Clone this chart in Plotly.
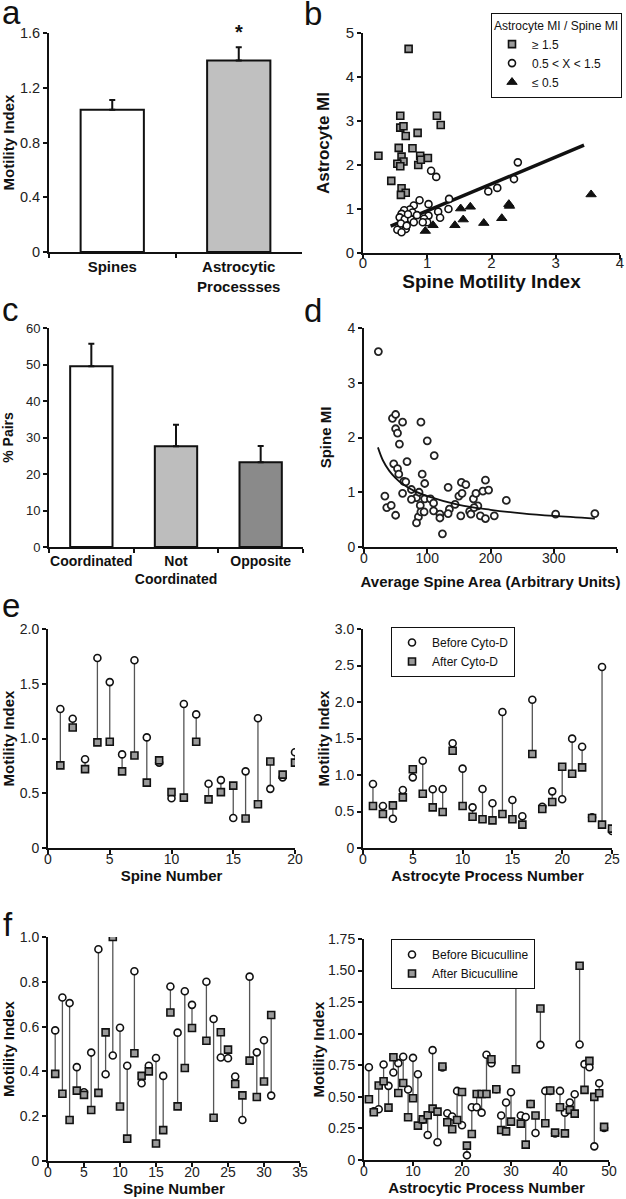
import plotly.graph_objects as go

FONT = "Arial, 'Liberation Sans', Helvetica, sans-serif"
W, H = 626, 1199
INK = "#111111"

# ---------------- Panel a ----------------
a_categories = ["Spines", "Astrocytic<br>Processses"]
a_values = [1.04, 1.40]
a_errors = [0.07, 0.095]
a_colors = ["#ffffff", "#c0c0c0"]
a_ytickvals = [0, 0.4, 0.8, 1.2, 1.6]
a_yticktext = ["0", "0.4", "0.8", "1.2", "1.6"]

# ---------------- Panel b ----------------
b_sq_x = [0.24, 0.44, 0.58, 0.58, 0.63, 0.665, 0.556, 0.60, 0.63, 0.535, 0.58, 0.60,
          0.665, 0.59, 0.71, 0.85, 0.77, 0.89, 0.86, 0.90, 1.01, 1.15, 1.21]
b_sq_y = [2.21, 1.64, 3.12, 2.85, 2.88, 2.66, 2.39, 2.19, 2.08, 2.03, 1.97, 1.47,
          1.37, 1.32, 4.64, 2.73, 2.38, 2.21, 2.00, 2.12, 2.16, 3.12, 2.91]
b_ci_x = [2.41, 2.35, 2.09, 1.95, 1.06, 1.14, 1.34, 1.33, 0.88, 1.02, 0.79, 0.73,
          0.64, 0.77, 0.60, 0.57, 0.65, 0.75, 1.02, 0.95, 1.17, 1.20, 1.00, 0.79,
          0.59, 0.665, 0.535, 0.60, 0.93, 0.68, 0.84, 0.70]
b_ci_y = [2.06, 1.68, 1.48, 1.40, 1.87, 1.73, 1.23, 1.00, 1.20, 1.11, 1.08, 0.99,
          0.97, 0.92, 0.89, 0.81, 0.77, 0.76, 0.85, 0.78, 0.94, 0.80, 0.70, 0.70,
          0.67, 0.545, 0.53, 0.47, 0.70, 0.62, 0.86, 0.88]
b_tr_x = [0.97, 1.09, 1.43, 1.52, 1.56, 1.67, 1.88, 2.16, 2.27, 2.28, 3.55]
b_tr_y = [0.50, 0.63, 0.63, 1.01, 0.76, 1.05, 0.68, 0.79, 1.11, 1.07, 1.33]
b_fit_x = [0.43, 3.44]
b_fit_y = [0.61, 2.45]
b_legend_names = ["\u2265 1.5", "0.5 &lt; X &lt; 1.5", "\u2264 0.5"]

# ---------------- Panel c ----------------
c_categories = ["Coordinated", "Not<br>Coordinated", "Opposite"]
c_values = [49.5, 27.6, 23.2]
c_errors = [6.2, 5.9, 4.5]
c_colors = ["#ffffff", "#bdbdbd", "#8a8a8a"]

# ---------------- Panel d ----------------
d_x = [22.7, 45, 50, 50, 53, 56, 61, 90, 100, 111, 68, 47, 53, 55, 63, 66, 92, 96, 33, 36,
       43, 50, 61, 75, 83, 87, 75, 89, 86, 83, 90, 95, 96, 105, 110, 110, 120, 120, 124, 133,
       135, 133, 144, 150, 155, 154, 161, 153, 167, 169, 173, 177, 180, 174, 184, 188, 192, 197,
       192, 206, 225, 303, 365]
d_y = [3.57, 2.35, 2.42, 2.16, 2.08, 1.88, 2.28, 2.28, 1.94, 1.67, 1.56, 1.52, 1.43, 1.33, 1.20,
       1.19, 1.33, 1.16, 0.93, 0.72, 0.76, 0.58, 0.98, 1.05, 0.90, 1.00, 0.87, 0.76, 0.55, 0.44,
       0.64, 0.64, 0.88, 0.88, 0.80, 0.66, 0.60, 0.53, 0.24, 1.09, 0.69, 0.61, 0.78, 0.93, 0.98,
       1.18, 1.14, 0.57, 0.65, 0.60, 0.88, 0.98, 0.75, 0.72, 0.57, 1.02, 1.22, 1.04, 0.52, 0.57,
       0.85, 0.60, 0.61]
d_fit_x = [22, 30, 40, 50, 60, 80, 100, 150, 200, 250, 300, 365]
d_fit_y = [1.82, 1.58, 1.39, 1.26, 1.16, 1.02, 0.93, 0.77, 0.68, 0.615, 0.567, 0.52]

# ---------------- Panel e (left: spines, right: astrocyte processes) ----------------
e1_n = list(range(1, 21))
e1_before = [1.27, 1.18, 0.81, 1.735, 1.515, 0.855, 1.715, 1.01, 0.78, 0.455, 1.315, 1.22,
             0.587, 0.62, 0.274, 0.70, 1.185, 0.54, 0.645, 0.875]
e1_after = [0.755, 1.10, 0.72, 0.965, 0.97, 0.70, 0.845, 0.597, 0.80, 0.51, 0.46, 0.97,
            0.444, 0.51, 0.57, 0.27, 0.40, 0.79, 0.67, 0.78]
e2_n = list(range(1, 26))
e2_before = [0.877, 0.575, 0.40, 0.795, 0.968, 1.196, 0.804, 0.808, 1.434, 1.087, 0.557, 0.808,
             0.612, 1.863, 0.658, 0.434, 2.03, 0.566, 0.776, 0.667, 1.498, 1.388, 0.42, 2.48, 0.233]
e2_after = [0.575, 0.466, 0.584, 0.694, 1.078, 0.744, 0.557, 0.493, 1.333, 0.575, 0.429, 0.393,
            0.379, 0.466, 0.393, 0.32, 1.288, 0.534, 0.63, 1.114, 1.018, 1.105, 0.41, 0.32, 0.265]

# ---------------- Panel f (left: spines, right: astrocytic processes) ----------------
f1_n = list(range(1, 21)) + list(range(22, 32))
f1_before = [0.583, 0.730, 0.705, 0.419, 0.307, 0.484, 0.945, 0.387, 0.471, 0.595, 0.425, 0.847,
             0.347, 0.425, 0.46, 0.38, 0.779, 0.573, 0.758, 0.697, 0.80, 0.634, 0.462, 0.459,
             0.377, 0.183, 0.823, 0.485, 0.539, 0.292]
f1_after = [0.389, 0.30, 0.183, 0.314, 0.295, 0.228, 0.304, 0.574, 1.0, 0.243, 0.1, 0.481,
            0.38, 0.40, 0.078, 0.138, 0.663, 0.244, 0.415, 0.594, 0.537, 0.193, 0.575, 0.497,
            0.344, 0.293, 0.448, 0.286, 0.355, 0.652]
f2_n = list(range(1, 50))
f2_before = [0.735, 0.385, 0.402, 0.756, 0.587, 0.693, 0.767, 0.817, 0.558, 0.809, 0.679, 0.32,
             0.198, 0.87, 0.14, 0.732, 0.37, 0.344, 0.547, 0.275, 0.037, 0.418, 0.418, 0.375,
             0.833, 0.767, 0.56, 0.352, 0.455, 0.537, 1.692, 0.352, 0.341, 0.444, 0.214, 0.912,
             0.547, 0.547, 0.211, 0.547, 0.375, 0.455, 0.521, 0.915, 0.759, 0.735, 0.108, 0.608,
             0.254]
f2_after = [0.481, 0.378, 0.59, 0.624, 0.415, 0.814, 0.531, 0.61, 0.338, 0.489, 0.272, 0.322,
            0.354, 0.407, 0.383, 0.74, 0.299, 0.243, 0.317, 0.539, 0.114, 0.206, 0.523, 0.523,
            0.523, 0.798, 0.56, 0.238, 0.227, 0.304, 0.719, 0.288, 0.122, 0.444, 0.352, 1.2,
            0.291, 0.55, 0.217, 0.418, 0.211, 0.397, 0.367, 1.538, 0.555, 0.785, 0.50, 0.529,
            0.262]

e1_ytickvals = [0, 0.5, 1.0, 1.5, 2.0]
e1_yticktext = ["0", "0.5", "1.0", "1.5", "2.0"]
e2_ytickvals = [0, 0.5, 1.0, 1.5, 2.0, 2.5, 3.0]
e2_yticktext = ["0", "0.5", "1.0", "1.5", "2.0", "2.5", "3.0"]
f1_ytickvals = [0, 0.2, 0.4, 0.6, 0.8, 1.0]
f1_yticktext = ["0", "0.2", "0.4", "0.6", "0.8", "1.0"]
f2_ytickvals = [0, 0.25, 0.5, 0.75, 1.0, 1.25, 1.5, 1.75]
f2_yticktext = ["0", "0.25", "0.50", "0.75", "1.00", "1.25", "1.50", "1.75"]

# ---------------- Layout geometry (pixels: left, right, top, bottom) ----------------
boxes = {
    1: (49, 302, 33, 252),
    2: (363, 620, 33, 253),
    3: (49, 303, 328, 547),
    4: (364, 617, 328, 547),
    5: (48, 295, 629, 848),
    6: (363, 612, 629, 848),
    7: (48, 300, 937, 1161),
    8: (364, 609, 939, 1160),
}

circle_marker = dict(symbol="circle", size=7, color="white", line=dict(color=INK, width=1.6))
square_marker = dict(symbol="square", size=7, color="#9a9a9a", line=dict(color=INK, width=1.6))

fig = go.Figure()


def ax(i):
    return ("x" if i == 1 else f"x{i}"), ("y" if i == 1 else f"y{i}")


# Panel a bars
xa, ya = ax(1)
fig.add_trace(go.Bar(x=a_categories, y=a_values, width=0.5,
                     marker=dict(color=a_colors, line=dict(color=INK, width=2)),
                     error_y=dict(type="data", array=a_errors, arrayminus=[0] * len(a_errors),
                                  symmetric=False, color=INK, thickness=2, width=3),
                     xaxis=xa, yaxis=ya, showlegend=False))

# Panel b scatter
xa, ya = ax(2)
fig.add_trace(go.Scatter(x=b_fit_x, y=b_fit_y, mode="lines", line=dict(color=INK, width=3.5),
                         xaxis=xa, yaxis=ya, showlegend=False))
fig.add_trace(go.Scatter(x=b_sq_x, y=b_sq_y, mode="markers", name=b_legend_names[0],
                         marker=square_marker, xaxis=xa, yaxis=ya, legend="legend"))
fig.add_trace(go.Scatter(x=b_ci_x, y=b_ci_y, mode="markers", name=b_legend_names[1],
                         marker=circle_marker, xaxis=xa, yaxis=ya, legend="legend"))
fig.add_trace(go.Scatter(x=b_tr_x, y=b_tr_y, mode="markers", name=b_legend_names[2],
                         marker=dict(symbol="triangle-up", size=9, color=INK,
                                     line=dict(color=INK, width=1)),
                         xaxis=xa, yaxis=ya, legend="legend"))

# Panel c bars
xa, ya = ax(3)
fig.add_trace(go.Bar(x=c_categories, y=c_values, width=0.5,
                     marker=dict(color=c_colors, line=dict(color=INK, width=2)),
                     error_y=dict(type="data", array=c_errors, arrayminus=[0] * len(c_errors),
                                  symmetric=False, color=INK, thickness=2, width=3),
                     xaxis=xa, yaxis=ya, showlegend=False))

# Panel d
xa, ya = ax(4)
fig.add_trace(go.Scatter(x=d_x, y=d_y, mode="markers",
                         marker=dict(symbol="circle", size=7, color="white",
                                     line=dict(color="#222", width=1.8)),
                         xaxis=xa, yaxis=ya, showlegend=False))
fig.add_trace(go.Scatter(x=d_fit_x, y=d_fit_y, mode="lines", line=dict(color=INK, width=1.8, shape="spline"),
                         xaxis=xa, yaxis=ya, showlegend=False))


def paired(i, n, before, after, legend_name, before_label, after_label, show):
    xa, ya = ax(i)
    lx, ly = [], []
    for k, b, a in zip(n, before, after):
        lx += [k, k, None]
        ly += [b, a, None]
    fig.add_trace(go.Scatter(x=lx, y=ly, mode="lines", line=dict(color="#555", width=1.3),
                             xaxis=xa, yaxis=ya, showlegend=False, hoverinfo="skip"))
    fig.add_trace(go.Scatter(x=n, y=before, mode="markers", name=before_label,
                             marker=circle_marker, xaxis=xa, yaxis=ya,
                             showlegend=show, legend=legend_name))
    fig.add_trace(go.Scatter(x=n, y=after, mode="markers", name=after_label,
                             marker=square_marker, xaxis=xa, yaxis=ya,
                             showlegend=show, legend=legend_name))


paired(5, e1_n, e1_before, e1_after, "legend2", "Before Cyto-D", "After Cyto-D", False)
paired(6, e2_n, e2_before, e2_after, "legend2", "Before Cyto-D", "After Cyto-D", True)
paired(7, f1_n, f1_before, f1_after, "legend3", "Before Bicuculline", "After Bicuculline", False)
paired(8, f2_n, f2_before, f2_after, "legend3", "Before Bicuculline", "After Bicuculline", True)


# ---------------- Axes ----------------
def tf(size):
    return dict(family=FONT, size=size, color="#222")


def ttl(size):
    return dict(family=FONT, size=size, color=INK, weight="bold")


common = dict(showline=True, linecolor=INK, linewidth=2, ticks="outside", ticklen=4,
              tickwidth=1.5, tickcolor=INK, showgrid=False, zeroline=False,
              automargin=False, fixedrange=True)

x_specs = {
    1: dict(type="category", tickson="boundaries", tickangle=0,
            tickfont=dict(family=FONT, size=15, color=INK, weight="bold")),
    2: dict(range=[0, 4], tickvals=[0, 1, 2, 3, 4], tickfont=tf(15), ticklabelstandoff=-9,
            title=dict(text="Spine Motility Index", font=ttl(19), standoff=2)),
    3: dict(type="category", tickson="boundaries", tickangle=0,
            tickfont=dict(family=FONT, size=14, color=INK, weight="bold")),
    4: dict(range=[0, 400], tickvals=[0, 100, 200, 300, 400], tickfont=tf(14), ticklabelstandoff=-7,
            title=dict(text="Average Spine Area (Arbitrary Units)", font=ttl(15), standoff=12)),
    5: dict(range=[0, 20], tickvals=[0, 5, 10, 15, 20], tickfont=tf(14), ticklabelstandoff=-7,
            title=dict(text="Spine Number", font=ttl(15), standoff=3)),
    6: dict(range=[0, 25], tickvals=[0, 5, 10, 15, 20, 25], tickfont=tf(14), ticklabelstandoff=-7,
            title=dict(text="Astrocyte Process Number", font=ttl(15), standoff=3)),
    7: dict(range=[0, 35], tickvals=[0, 5, 10, 15, 20, 25, 30, 35], tickfont=tf(14), ticklabelstandoff=-7,
            title=dict(text="Spine Number", font=ttl(15), standoff=3)),
    8: dict(range=[0, 50], tickvals=[0, 10, 20, 30, 40, 50], tickfont=tf(14), ticklabelstandoff=-7,
            title=dict(text="Astrocytic Process Number", font=ttl(15), standoff=3)),
}
y_specs = {
    1: dict(range=[0, 1.6], tickvals=a_ytickvals, ticktext=a_yticktext, tickfont=tf(14.5),
            title=dict(text="Motility Index", font=ttl(15), standoff=2)),
    2: dict(range=[0, 5], tickvals=[0, 1, 2, 3, 4, 5], tickfont=tf(15),
            title=dict(text="Astrocyte MI", font=ttl(17), standoff=12)),
    3: dict(range=[0, 60], tickvals=[0, 10, 20, 30, 40, 50, 60], tickfont=tf(13),
            title=dict(text="% Pairs", font=ttl(14), standoff=10)),
    4: dict(range=[0, 4], tickvals=[0, 1, 2, 3, 4], tickfont=tf(14),
            title=dict(text="Spine MI", font=ttl(15), standoff=12)),
    5: dict(range=[0, 2], tickvals=e1_ytickvals, ticktext=e1_yticktext, tickfont=tf(14),
            title=dict(text="Motility Index", font=ttl(15), standoff=6)),
    6: dict(range=[0, 3], tickvals=e2_ytickvals, ticktext=e2_yticktext, tickfont=tf(14),
            title=dict(text="Motility Index", font=ttl(15), standoff=1)),
    7: dict(range=[0, 1], tickvals=f1_ytickvals, ticktext=f1_yticktext, tickfont=tf(14),
            title=dict(text="Motility Index", font=ttl(15), standoff=6)),
    8: dict(range=[0, 1.75], tickvals=f2_ytickvals, ticktext=f2_yticktext, tickfont=tf(14),
            title=dict(text="Motility Index", font=ttl(15), standoff=0)),
}

layout_axes = {}
for i, (l, r, t, b) in boxes.items():
    xa, ya = ax(i)
    xkey = "xaxis" if i == 1 else f"xaxis{i}"
    ykey = "yaxis" if i == 1 else f"yaxis{i}"
    xd = dict(common)
    xd.update(domain=[l / W, r / W], anchor=ya)
    xd.update(x_specs[i])
    yd = dict(common)
    yd.update(domain=[1 - b / H, 1 - t / H], anchor=xa)
    yd.update(y_specs[i])
    layout_axes[xkey] = xd
    layout_axes[ykey] = yd

# ---------------- Panel letters and asterisk ----------------
letters = [("a", 0, 12), ("b", 302, 13), ("c", 0, 310), ("d", 302, 311), ("e", 0, 606), ("f", 1, 924)]
annotations = []
for txt, px, py in letters:
    annotations.append(dict(text=txt, x=px / W, y=1 - py / H, xref="paper", yref="paper",
                            xanchor="left", yanchor="middle", showarrow=False,
                            font=dict(family=FONT, size=33, color=INK)))
annotations.append(dict(text="*", x=a_categories[1], y=a_values[1] + a_errors[1] + 0.02,
                        xref="x", yref="y", yanchor="bottom", showarrow=False,
                        font=dict(family=FONT, size=20, color=INK, weight="bold")))

legend_font = dict(family=FONT, size=12, color=INK)
fig.update_layout(
    width=W, height=H,
    margin=dict(l=0, r=0, t=0, b=0),
    paper_bgcolor="white", plot_bgcolor="white",
    font=dict(family=FONT, color=INK),
    annotations=annotations,
    legend=dict(x=622 / W, y=1 - 13 / H, xanchor="right", yanchor="top",
                bordercolor=INK, borderwidth=1, bgcolor="white", font=legend_font,
                title=dict(text="Astrocyte MI / Spine MI", font=legend_font),
                itemwidth=30, tracegroupgap=0),
    legend2=dict(x=391 / W, y=1 - 627 / H, xanchor="left", yanchor="top",
                 bordercolor=INK, borderwidth=1, bgcolor="white", font=legend_font,
                 itemwidth=30),
    legend3=dict(x=391 / W, y=1 - 939 / H, xanchor="left", yanchor="top",
                 bordercolor=INK, borderwidth=1, bgcolor="white", font=legend_font,
                 itemwidth=30),
    **layout_axes,
)

fig.write_html("out.html", config={"displayModeBar": False},
               post_script="document.body.style.margin='0';document.body.style.overflow='hidden';")
